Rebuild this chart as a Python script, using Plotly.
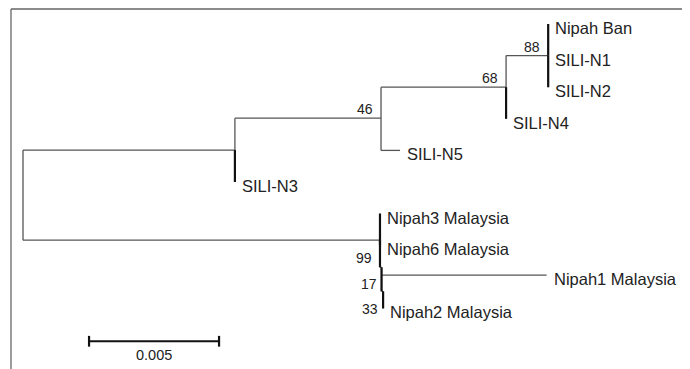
import plotly.graph_objects as go

# ---- tree data ----
node_names = ["root", "n_upper", "n46", "n68", "n88",
              "Nipah Ban", "SILI-N1", "SILI-N2", "SILI-N4", "SILI-N5", "SILI-N3",
              "n99", "Nipah3 Malaysia", "Nipah6 Malaysia", "n17",
              "Nipah1 Malaysia", "n33", "Nipah2 Malaysia"]
node_parent = [None, "root", "n_upper", "n46", "n68",
               "n88", "n88", "n88", "n68", "n46", "n_upper",
               "root", "n99", "n99", "n99",
               "n17", "n17", "n33"]
branch_length = [0.0, 0.00815, 0.00562, 0.00481, 0.00162,
                 0.0, 0.0, 0.0, 0.0, 0.00073, 0.0,
                 0.01373, 0.0, 0.0, 0.00006,
                 0.00635, 0.00006, 0.0]
node_row = [5.42, 3.99, 2.98, 2.0, 1.0,
            0.0, 1.0, 2.0, 3.0, 4.0, 5.0,
            6.84, 6.0, 7.0, 7.70,
            7.95, 8.46, 9.0]
is_leaf = [False, False, False, False, False,
           True, True, True, True, True, True,
           False, True, True, False,
           True, False, True]

bootstrap_nodes = ["n88", "n68", "n46", "n99", "n17", "n33"]
bootstrap_values = [88, 68, 46, 99, 17, 33]

scale_bar_length = 0.005
scale_bar_start = 0.00254
scale_bar_row = 10.04
scale_bar_label = "0.005"

# ---- compute depths ----
idx = {n: i for i, n in enumerate(node_names)}
depth = [0.0] * len(node_names)
for i, n in enumerate(node_names):
    d = 0.0
    cur = n
    while cur is not None:
        j = idx[cur]
        d += branch_length[j]
        cur = node_parent[j]
    depth[i] = d

children = {n: [] for n in node_names}
for i, p in enumerate(node_parent):
    if p is not None:
        children[p].append(node_names[i])

GRAY = "#555555"
BLACK = "#111111"
TEXT = "#222222"
FONT = "Liberation Sans, Arial, sans-serif"

fig = go.Figure()

# thin lines: horizontals + internal verticals
hx, hy = [], []
for i, n in enumerate(node_names):
    p = node_parent[i]
    if p is not None and branch_length[i] > 0:
        hx += [depth[idx[p]], depth[i], None]
        hy += [node_row[i], node_row[i], None]
for n, ch in children.items():
    if ch:
        rows = [node_row[idx[c]] for c in ch] + [node_row[idx[n]]]
        hx += [depth[idx[n]], depth[idx[n]], None]
        hy += [min(rows), max(rows), None]
fig.add_trace(go.Scatter(x=hx, y=hy, mode="lines",
                         line=dict(color=GRAY, width=1.3),
                         hoverinfo="skip", showlegend=False))

# thick connectors to (near) zero-length children
tx, ty = [], []
for i, n in enumerate(node_names):
    p = node_parent[i]
    if p is not None and branch_length[i] < 0.0001:
        tx += [depth[idx[p]], depth[idx[p]], None]
        ty += [node_row[idx[p]], node_row[i], None]
fig.add_trace(go.Scatter(x=tx, y=ty, mode="lines",
                         line=dict(color=BLACK, width=2.2),
                         hoverinfo="skip", showlegend=False))

# leaf labels
for i, n in enumerate(node_names):
    if is_leaf[i]:
        fig.add_annotation(x=depth[i], y=node_row[i], text=n, showarrow=False,
                           xanchor="left", yanchor="middle", xshift=5, yshift=-4,
                           font=dict(family=FONT, size=16.5, color=TEXT))

# bootstrap labels
boot_xshift = [-6, -6, -6, -6, -3, -3]
boot_yshift = [9, 9, 9, -18, -17, -18]
for k, (n, v) in enumerate(zip(bootstrap_nodes, bootstrap_values)):
    i = idx[n]
    fig.add_annotation(x=depth[i], y=node_row[i], text=str(v), showarrow=False,
                       xanchor="right", yanchor="middle",
                       xshift=boot_xshift[k], yshift=boot_yshift[k],
                       font=dict(family=FONT, size=14, color=TEXT))

# scale bar
sx0, sx1 = scale_bar_start, scale_bar_start + scale_bar_length
fig.add_trace(go.Scatter(x=[sx0, sx1], y=[scale_bar_row, scale_bar_row], mode="lines",
                         line=dict(color=BLACK, width=2.2),
                         hoverinfo="skip", showlegend=False))
for sx in (sx0, sx1):
    fig.add_trace(go.Scatter(x=[sx, sx], y=[scale_bar_row - 0.17, scale_bar_row + 0.17],
                             mode="lines", line=dict(color=BLACK, width=2.2),
                             hoverinfo="skip", showlegend=False))
fig.add_annotation(x=(sx0 + sx1) / 2, y=scale_bar_row, text=scale_bar_label,
                   showarrow=False, xanchor="center", yanchor="middle", yshift=-14,
                   font=dict(family=FONT, size=14.5, color=TEXT))

# frame (top and left edges)
fig.add_shape(type="line", xref="paper", yref="paper", x0=0, x1=1, y0=1, y1=1,
              line=dict(color="#666666", width=1.3))
fig.add_shape(type="line", xref="paper", yref="paper", x0=0, x1=0, y0=0, y1=1,
              line=dict(color="#666666", width=1.3))

fig.update_xaxes(range=[-0.000462, 0.025654], visible=False)
fig.update_yaxes(range=[10.918, -0.4747], visible=False)
# page body has an 8px default margin, so the figure is 8px smaller
fig.update_layout(width=682, height=361, margin=dict(l=3, r=0, t=1, b=0),
                  plot_bgcolor="white", paper_bgcolor="white")

fig.write_html("out.html")
